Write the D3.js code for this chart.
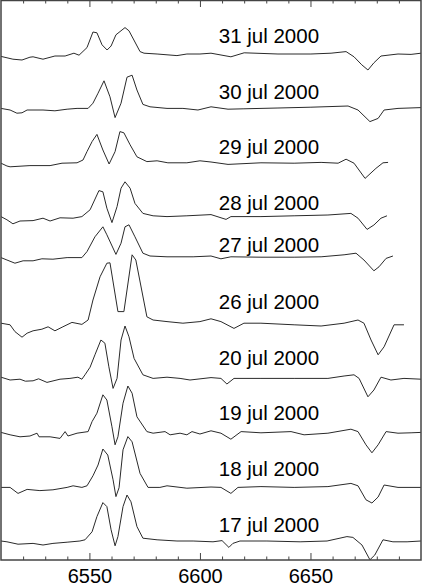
<!DOCTYPE html>
<html>
<head>
<meta charset="utf-8">
<script src="https://cdn.jsdelivr.net/npm/d3@7"></script>
<style>
  body { margin: 0; background: #fff; }
  text { font-family: "Liberation Sans", Arial, sans-serif; }
</style>
</head>
<body>
<div id="chart"></div>
<script>
// spectra, [wavelength (A), normalised flux]
var jul31 = [[6510,0.99],[6515.4,0.92],[6519.5,0.90],[6523.1,0.97],[6524.5,0.98],[6529,0.92],[6534.4,1.00],[6539,1.00],[6543,1.07],[6545.3,1.02],[6548.9,1.21],[6551.6,1.60],[6553.4,1.58],[6555.7,1.28],[6558,1.15],[6559.8,1.25],[6562,1.53],[6566.1,1.71],[6567.9,1.63],[6572.9,1.11],[6574.7,1.07],[6580.6,1.05],[6589.6,1.01],[6594.1,1.05],[6600,1.05],[6605,1.07],[6614,0.98],[6620,1.08],[6635.3,1.05],[6650.2,1.05],[6659.3,1.07],[6666.1,1.11],[6669.7,0.98],[6673.2,0.78],[6676,0.65],[6678.7,0.83],[6681.9,1.00],[6689.6,1.05],[6695.5,1.04],[6700,1.07]];
var jul30 = [[6510,0.99],[6514.1,0.95],[6517.2,0.87],[6519.5,0.88],[6521.8,0.95],[6529,0.95],[6534.4,0.93],[6539.9,0.97],[6544.4,0.99],[6549.4,0.99],[6551.6,1.12],[6553.9,1.37],[6556.6,1.68],[6559.3,1.28],[6561.6,0.76],[6564.3,1.12],[6567,1.77],[6569.3,1.82],[6571.5,1.45],[6574.2,1.09],[6577.4,1.03],[6585.1,0.99],[6592.3,0.99],[6599.1,0.95],[6605,1.03],[6612.7,0.97],[6619.9,0.98],[6635.3,1.00],[6650.2,1.02],[6667,1.05],[6671.5,0.95],[6676.9,0.66],[6680.6,0.74],[6683.3,0.95],[6689.6,0.99],[6700,1.01]];
var jul29 = [[6510,1.02],[6512.7,0.95],[6514.1,0.93],[6523.1,0.96],[6532.2,0.96],[6537.6,1.02],[6544.4,1.03],[6547.1,1.10],[6548.9,1.31],[6551.2,1.56],[6553.4,1.74],[6556.1,1.35],[6558.9,1.00],[6561.6,1.31],[6563.8,1.81],[6565.6,1.78],[6568.4,1.48],[6571.5,1.18],[6576,1.06],[6580.6,1.08],[6585.5,1.03],[6594.1,1.03],[6600,1.08],[6605,1.05],[6612.7,0.99],[6627.6,1.03],[6642.6,1.02],[6654.8,1.04],[6662.5,1.02],[6666.1,1.12],[6669.7,1.02],[6674.7,0.64],[6679.6,0.89],[6682.8,1.03],[6685.1,1.04]];
var jul28 = [[6510,1.01],[6512.7,0.93],[6515.4,0.83],[6518.6,0.90],[6524.5,0.91],[6529,0.97],[6532.2,0.90],[6536.7,0.98],[6542.6,0.97],[6546.6,1.01],[6550.3,1.18],[6554.3,1.66],[6556.1,1.63],[6557.9,1.22],[6560.2,0.86],[6562.5,1.26],[6564.3,1.72],[6566.1,1.88],[6568.4,1.72],[6570.6,1.34],[6574.2,1.09],[6578.8,1.03],[6585.1,1.01],[6594.1,1.03],[6605,1.06],[6611.8,0.94],[6614,1.01],[6627.6,1.01],[6642.6,1.03],[6657.9,1.05],[6668.3,1.09],[6671.5,0.97],[6675.6,0.69],[6678.7,0.80],[6681.9,0.97],[6684.6,1.03]];
var jul27 = [[6510,1.01],[6512.7,0.95],[6516.3,0.87],[6520,0.93],[6524.5,0.93],[6528.5,0.98],[6533.5,0.97],[6539.9,1.01],[6546.6,1.01],[6548.9,1.16],[6552.5,1.53],[6556.1,1.78],[6557.9,1.58],[6562,1.09],[6564.3,1.37],[6566.1,1.78],[6567.9,1.83],[6570.6,1.53],[6574.2,1.12],[6577.4,1.05],[6585.1,1.03],[6596.9,1.03],[6605,1.05],[6609.5,0.98],[6614,1.03],[6627.6,1.02],[6642.6,1.02],[6654.8,1.03],[6665.2,1.08],[6670.6,1.12],[6674.2,0.95],[6678.7,0.68],[6681,0.78],[6684.2,0.99],[6687.3,1.05]];
var jul26 = [[6510,0.97],[6514.1,0.93],[6516.3,0.76],[6519.5,0.62],[6521.8,0.72],[6524.5,0.78],[6528.5,0.82],[6531.3,0.88],[6534.4,0.78],[6538,0.88],[6542.1,0.99],[6546.6,0.94],[6549.4,1.05],[6551.6,1.55],[6554.8,2.13],[6557.9,2.47],[6559.3,2.48],[6562.9,1.26],[6565.6,1.26],[6569.3,2.68],[6571,2.55],[6576,1.13],[6578.8,1.05],[6585.1,1.01],[6592.3,0.97],[6600,1.01],[6605,1.08],[6609.5,1.01],[6615.4,0.84],[6619.9,0.97],[6627.6,0.97],[6642.6,0.93],[6654.8,0.90],[6665.2,0.97],[6671.5,1.05],[6674.2,0.97],[6677.4,0.55],[6680.6,0.18],[6683.3,0.38],[6687.8,0.93],[6692.3,0.93]];
var jul20 = [[6510,1.02],[6514.1,0.95],[6518.6,0.97],[6521,0.92],[6524.5,0.93],[6527,0.98],[6530.8,0.89],[6536.7,0.97],[6541.2,0.99],[6544.8,1.02],[6546.6,0.97],[6548,1.08],[6550.3,1.27],[6552.5,1.58],[6555.2,1.95],[6557,1.87],[6558.8,1.28],[6560.7,0.74],[6562.5,0.99],[6564.3,1.95],[6566.1,2.30],[6567.9,2.03],[6570.2,1.49],[6574.2,1.08],[6578.8,0.99],[6585.1,1.02],[6591,0.99],[6595.5,0.95],[6605,1.01],[6609.5,0.99],[6612.2,0.85],[6615.4,0.99],[6627.6,0.99],[6642.6,0.99],[6657.9,0.99],[6665.2,1.05],[6669.7,1.08],[6672,0.99],[6676,0.53],[6678.7,0.70],[6681.9,1.02],[6686.4,0.95],[6692.3,0.99],[6700,0.97]];
var jul19 = [[6510,0.99],[6514.1,0.93],[6518.6,0.88],[6523.1,0.90],[6526.3,0.97],[6527.2,0.88],[6532.2,0.88],[6536.7,0.84],[6539,1.01],[6540.3,0.90],[6544.4,0.97],[6549.4,1.01],[6551.2,1.26],[6553.4,1.47],[6556.1,1.93],[6557.9,1.80],[6560.2,1.13],[6561.6,0.68],[6562.9,0.88],[6565.2,1.72],[6567.4,2.15],[6569.3,1.97],[6571.5,1.38],[6576,1.01],[6578.8,0.97],[6584.2,1.01],[6586.5,0.93],[6591,0.97],[6594.1,0.93],[6596.4,1.01],[6600,0.95],[6605,1.03],[6609.5,0.97],[6614,0.82],[6618.6,1.01],[6627.6,0.98],[6641.2,1.01],[6647.1,0.93],[6657.9,0.97],[6668.3,1.07],[6671.5,1.01],[6675.1,0.68],[6677.8,0.48],[6680.6,0.68],[6684.2,1.01],[6689.6,0.97],[6695.5,0.98],[6700,0.99]];
var jul18 = [[6510,0.99],[6514.1,0.99],[6517.7,0.84],[6521.8,0.94],[6527.6,0.91],[6533.5,0.93],[6539.9,0.99],[6542.6,1.03],[6546.6,0.99],[6548.9,1.03],[6551.6,1.28],[6553.9,1.55],[6556.1,1.95],[6558.3,1.80],[6560.7,1.18],[6562,0.76],[6563.4,0.98],[6565.2,1.93],[6567.4,2.26],[6569.3,2.13],[6572.9,1.34],[6576.5,0.99],[6581.9,0.99],[6585.1,1.03],[6594.1,0.97],[6605,1.00],[6609.5,0.99],[6614,0.84],[6617.2,0.99],[6627.6,1.01],[6642.6,0.99],[6657.9,1.01],[6668.3,1.09],[6671.5,1.03],[6675.1,0.68],[6677.8,0.60],[6680.6,0.75],[6683.3,1.05],[6689.6,0.99],[6700,0.99]];
var jul17 = [[6510,1.00],[6512.7,0.98],[6517.7,0.92],[6524.5,0.94],[6529,0.90],[6533.5,0.94],[6539.9,0.97],[6545.7,1.00],[6548,1.03],[6551.2,1.23],[6553.4,1.61],[6556.1,1.96],[6557.9,1.86],[6559.8,1.28],[6561.6,0.88],[6562.9,1.11],[6565.2,1.86],[6567,2.15],[6568.8,1.98],[6571.5,1.36],[6574.2,1.07],[6580.6,1.03],[6589.6,1.00],[6596.9,1.00],[6605.9,0.98],[6610,1.01],[6613.1,0.84],[6614.9,0.94],[6618.1,1.00],[6630.3,1.00],[6645.3,0.98],[6657.5,1.00],[6666.5,1.11],[6669.2,1.09],[6673.3,0.90],[6676.9,0.53],[6679.1,0.65],[6682.8,1.03],[6687.3,0.98],[6693.7,0.98],[6700,1.00]];

var spectra = [jul31, jul30, jul29, jul28, jul27, jul26, jul20, jul19, jul18, jul17];
var dates = ["31 jul 2000","30 jul 2000","29 jul 2000","28 jul 2000","27 jul 2000","26 jul 2000","20 jul 2000","19 jul 2000","18 jul 2000","17 jul 2000"];
var offsets = [11.6, 10.3, 8.9, 7.575, 6.55, 4.95, 3.55, 2.2, 0.825, -0.525];
var labelLevels = [12.925, 11.525, 10.15, 8.75, 7.7, 6.275, 4.875, 3.5, 2.1, 0.7];
var labelWave = 6608.5;
var majorTicks = [6550, 6600, 6650];
var minorTicks = [6520, 6530, 6540, 6560, 6570, 6580, 6590, 6610, 6620, 6630, 6640, 6660, 6670, 6680, 6690];

var viewboxwidth = 422;
var viewboxheight = 586;
var margin = {top: 0, bottom: 26, left: 1, right: 1};
var width = viewboxwidth - margin.left - margin.right;
var height = viewboxheight - margin.top - margin.bottom;

var svg = d3.select("#chart")
    .append("svg")
    .attr("width", viewboxwidth)
    .attr("height", viewboxheight)
    .append("g")
    .attr("transform", "translate(" + margin.left + "," + margin.top + ")");

var x = d3.scaleLinear()
    .domain([6510, 6700])
    .range([0, width]);

var y = d3.scaleLinear()
    .domain([0, 14])
    .range([height, 0]);

svg.append("clipPath")
    .attr("id", "plot-clip")
    .append("rect")
    .attr("width", width)
    .attr("height", height);

var line = d3.line()
    .x(function(d) { return x(d[0]); })
    .y(function(d) { return y(d[1]); });

// spectra
svg.append("g")
    .attr("clip-path", "url(#plot-clip)")
    .selectAll("path")
    .data(spectra)
    .enter()
    .append("path")
    .attr("d", function(d, i) {
        return line(d.map(function(p) { return [p[0], p[1] + offsets[i]]; }));
    })
    .style("fill", "none")
    .style("stroke", "#2a2a2a")
    .style("stroke-width", 1)
    .style("stroke-linejoin", "round");

// date labels
svg.append("g")
    .selectAll("text")
    .data(dates)
    .enter()
    .append("text")
    .attr("x", x(labelWave))
    .attr("y", function(d, i) { return y(labelLevels[i]); })
    .style("font-size", "20.5px")
    .style("fill", "#000")
    .text(function(d) { return d; });

// axes, ticks pointing inward
function styleAxis(g) {
    g.select(".domain").remove();
    g.selectAll(".tick line").style("stroke", "#444");
}

svg.append("g")
    .attr("transform", "translate(0," + height + ")")
    .call(d3.axisBottom(x).tickValues(minorTicks).tickSize(-3.5).tickFormat(""))
    .call(styleAxis);

svg.append("g")
    .attr("transform", "translate(0," + height + ")")
    .call(d3.axisBottom(x).tickValues(majorTicks).tickSize(-7).tickPadding(9).tickFormat(d3.format("d")))
    .call(styleAxis)
    .selectAll("text")
    .style("font-size", "20px")
    .style("fill", "#000");

svg.append("g")
    .call(d3.axisTop(x).tickValues(minorTicks).tickSize(-3.5).tickFormat(""))
    .call(styleAxis);

svg.append("g")
    .call(d3.axisTop(x).tickValues(majorTicks).tickSize(-7).tickFormat(""))
    .call(styleAxis);

// frame
svg.append("rect")
    .attr("x", 0)
    .attr("y", 0.5)
    .attr("width", width)
    .attr("height", height - 0.5)
    .style("fill", "none")
    .style("stroke", "#444")
    .style("stroke-width", 1.5);
</script>
</body>
</html>
